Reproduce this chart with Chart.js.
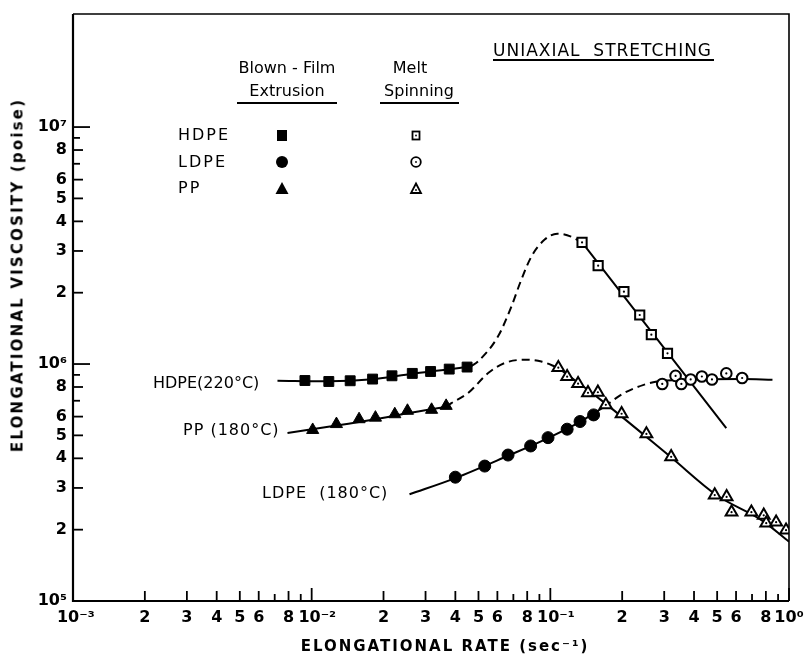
<!DOCTYPE html>
<html>
<head>
<meta charset="utf-8">
<script src="https://cdn.jsdelivr.net/npm/chart.js@4/dist/chart.umd.min.js"></script>
<style>
html,body{margin:0;padding:0;background:#fff;}
#wrap{position:relative;width:804px;height:663px;overflow:hidden;}
#c{position:absolute;left:0;top:0;}
.t{position:absolute;font-family:"DejaVu Sans",sans-serif;color:#000;white-space:pre;line-height:1;}
.c{transform:translate(-50%,-50%);}
.l{transform:translateY(-50%);}
.u{position:absolute;height:2px;background:#000;}
</style>
</head>
<body>
<div id="wrap">
<canvas id="c" width="804" height="663"></canvas>
<div class="t c" style="left:287px;top:68px;font-size:16px;">Blown - Film</div>
<div class="t c" style="left:287px;top:91px;font-size:16px;">Extrusion</div>
<div class="u" style="left:237px;top:102px;width:100px;"></div>
<div class="t c" style="left:410px;top:68px;font-size:16px;">Melt</div>
<div class="t c" style="left:419px;top:91px;font-size:16px;">Spinning</div>
<div class="u" style="left:380px;top:102px;width:79px;"></div>
<div class="t l" style="left:178px;top:135px;font-size:16px;letter-spacing:2px;">HDPE</div>
<div class="t l" style="left:178px;top:162px;font-size:16px;letter-spacing:2px;">LDPE</div>
<div class="t l" style="left:178px;top:188px;font-size:16px;letter-spacing:2px;">PP</div>
<div class="t l" style="left:493px;top:50px;font-size:17px;letter-spacing:1px;">UNIAXIAL  STRETCHING</div>
<div class="u" style="left:493px;top:59px;width:221px;"></div>
<div class="t l" style="left:153px;top:383px;font-size:16px;">HDPE(220°C)</div>
<div class="t l" style="left:183px;top:430px;font-size:16px;letter-spacing:1px;">PP (180°C)</div>
<div class="t l" style="left:262px;top:493px;font-size:16px;letter-spacing:1px;">LDPE  (180°C)</div>
<div class="t c" style="left:445px;top:646px;font-size:15px;font-weight:bold;letter-spacing:2px;">ELONGATIONAL RATE (sec⁻¹)</div>
<div class="t" style="left:18px;top:275px;font-size:15px;font-weight:bold;letter-spacing:2.2px;transform:translate(-50%,-50%) rotate(-90deg);">ELONGATIONAL VISCOSITY (poise)</div>
</div>
<script>
// ---------- tick values and labels ----------
const rateTicks = [0.001,0.002,0.003,0.004,0.005,0.006,0.007,0.008,0.009,
                   0.01,0.02,0.03,0.04,0.05,0.06,0.07,0.08,0.09,
                   0.1,0.2,0.3,0.4,0.5,0.6,0.7,0.8,0.9,1];
const rateTickLabels = [' 10⁻³','2','3','4','5','6','','8','',
                        '  10⁻²','2','3','4','5','6','','8','',
                        '  10⁻¹','2','3','4','5','6','','8','','10⁰'];
const viscTicks = [1e5,2e5,3e5,4e5,5e5,6e5,7e5,8e5,9e5,
                   1e6,2e6,3e6,4e6,5e6,6e6,7e6,8e6,9e6,1e7];
const viscTickLabels = ['10⁵','2','3','4','5','6','','8','',
                        '10⁶','2','3','4','5','6','','8','','10⁷'];

// ---------- Blown-film extrusion (filled symbols) ----------
const hdpeFilmRate = [0.00937,0.0118,0.0145,0.0180,0.0217,0.0264,0.0315,0.0377,0.0448];
const hdpeFilmVisc = [8.52e5,8.44e5,8.50e5,8.64e5,8.92e5,9.13e5,9.30e5,9.52e5,9.71e5];
const ppFilmRate = [0.0101,0.0127,0.0158,0.0185,0.0223,0.0252,0.0318,0.0366];
const ppFilmVisc = [5.27e5,5.58e5,5.85e5,5.94e5,6.14e5,6.35e5,6.41e5,6.66e5];
const ldpeFilmRate = [0.0400,0.0531,0.0665,0.0827,0.0978,0.1176,0.1332,0.1518];
const ldpeFilmVisc = [3.33e5,3.71e5,4.13e5,4.51e5,4.89e5,5.31e5,5.72e5,6.10e5];

// ---------- Melt spinning (open symbols) ----------
const hdpeSpinRate = [0.1358,0.1586,0.2034,0.2369,0.2650,0.3097];
const hdpeSpinVisc = [3.26e6,2.60e6,2.02e6,1.61e6,1.33e6,1.11e6];
const ldpeSpinRate = [0.2944,0.3348,0.3540,0.3873,0.4314,0.4756,0.5462,0.6363];
const ldpeSpinVisc = [8.24e5,8.91e5,8.24e5,8.61e5,8.86e5,8.61e5,9.13e5,8.73e5];
const ppSpinRate = [0.1080,0.1176,0.1307,0.1438,0.1582,0.1708,0.1989,0.2527,0.3208,
                    0.4884,0.5478,0.5745,0.6957,0.7837,0.8027,0.8832,0.9719];
const ppSpinVisc = [9.65e5,8.84e5,8.26e5,7.56e5,7.60e5,6.73e5,6.17e5,5.07e5,4.06e5,
                    2.80e5,2.75e5,2.37e5,2.37e5,2.30e5,2.13e5,2.15e5,1.99e5];

// ---------- drawn curves (solid fits, dashed transitions) ----------
const hdpeFitRate = [0.00719,0.0118,0.018,0.0264,0.0377,0.0467];
const hdpeFitVisc = [8.5e5,8.45e5,8.62e5,9.1e5,9.5e5,9.8e5];
const hdpeDashRate = [0.0467,0.0498,0.0604,0.0687,0.0756,0.0833,0.0947,0.1069,0.1222,0.1358];
const hdpeDashVisc = [9.8e5,1.026e6,1.309e6,1.75e6,2.27e6,2.84e6,3.35e6,3.55e6,3.45e6,3.26e6];
const hdpeSpinFitRate = [0.1358,0.546];
const hdpeSpinFitVisc = [3.26e6,5.36e5];

const ppFitRate = [0.00792,0.0127,0.0185,0.0252,0.0366];
const ppFitVisc = [5.12e5,5.5e5,5.85e5,6.2e5,6.6e5];
const ppDashRate = [0.0366,0.0385,0.0452,0.0549,0.0644,0.0781,0.0917,0.1076];
const ppDashVisc = [6.6e5,6.84e5,7.54e5,9.16e5,1.01e6,1.043e6,1.025e6,9.65e5];
const ppSpinFitRate = [0.1076,0.1627,0.3177,0.4966,0.7747,1.0];
const ppSpinFitVisc = [9.65e5,7.06e5,4.07e5,2.80e5,2.18e5,1.78e5];

const ldpeFitRate = [0.0257,0.0400,0.0665,0.0978,0.1332,0.168];
const ldpeFitVisc = [2.82e5,3.30e5,4.10e5,4.87e5,5.70e5,6.6e5];
const ldpeDashRate = [0.168,0.2034,0.2461,0.2798,0.2944];
const ldpeDashVisc = [6.6e5,7.54e5,8.17e5,8.44e5,8.5e5];
const ldpeSpinFitRate = [0.2944,0.40,0.6363,0.8526];
const ldpeSpinFitVisc = [8.5e5,8.62e5,8.65e5,8.58e5];

const pts = (xs, ys) => xs.map((x, i) => ({x: x, y: ys[i]}));

function curve(xs, ys, dashed) {
  return {type:'scatter', data: pts(xs, ys), showLine:true, pointRadius:0, pointHoverRadius:0,
          borderColor:'#000', borderWidth:2, borderDash: dashed ? [8,5] : [],
          cubicInterpolationMode:'monotone', fill:false, order:3};
}
function marks(xs, ys, style, r, filled) {
  return {type:'scatter', data: pts(xs, ys), pointStyle:style, pointRadius:r, pointHoverRadius:r,
          backgroundColor: filled ? '#000' : '#fff', borderColor:'#000',
          pointBorderWidth: filled ? 1 : 2, showLine:false, order:2};
}
function dots(xs, ys) {
  return {type:'scatter', data: pts(xs, ys), pointStyle:'circle', pointRadius:1.1, pointHoverRadius:1.1,
          backgroundColor:'#000', borderColor:'#000', pointBorderWidth:0, showLine:false, order:1};
}

const frameTicks = {
  id:'frameTicks',
  afterDraw(chart){
    const {ctx, chartArea:a} = chart;
    const xs = chart.scales.x, ys = chart.scales.y;
    ctx.save();
    ctx.strokeStyle = '#000';
    ctx.lineWidth = 1.6;
    ctx.beginPath();
    ctx.moveTo(a.left, a.top); ctx.lineTo(a.right, a.top); ctx.lineTo(a.right, a.bottom);
    ctx.stroke();
    ctx.lineWidth = 2.2;
    ctx.beginPath();
    ctx.moveTo(a.left, a.top); ctx.lineTo(a.left, a.bottom); ctx.lineTo(a.right, a.bottom);
    ctx.stroke();
    ctx.lineWidth = 1.8;
    rateTicks.forEach((v, i) => {
      const lab = rateTickLabels[i].trim();
      const len = lab.startsWith('10') ? 13 : (lab === '' ? 7 : 10);
      const px = xs.getPixelForValue(v);
      ctx.beginPath(); ctx.moveTo(px, a.bottom); ctx.lineTo(px, a.bottom - len); ctx.stroke();
    });
    viscTicks.forEach((v, i) => {
      const lab = viscTickLabels[i];
      const len = lab.startsWith('10') ? 17 : (lab === '' ? 7 : 10);
      const py = ys.getPixelForValue(v);
      ctx.beginPath(); ctx.moveTo(a.left, py); ctx.lineTo(a.left + len, py); ctx.stroke();
    });
    ctx.restore();
  }
};

// legend symbol table (symbols only; text is HTML)
const legendSymbols = {
  id:'legendSymbols',
  afterDraw(chart){
    const ctx = chart.ctx;
    ctx.save();
    ctx.fillStyle = '#000'; ctx.strokeStyle = '#000';
    ctx.fillRect(277, 130, 10, 11);
    ctx.beginPath(); ctx.arc(282, 162, 6, 0, Math.PI*2); ctx.fill();
    ctx.beginPath(); ctx.moveTo(282, 182); ctx.lineTo(288.5, 194); ctx.lineTo(275.5, 194); ctx.closePath(); ctx.fill();
    ctx.lineWidth = 1.8;
    ctx.strokeRect(412.5, 131.5, 7, 8);
    ctx.beginPath(); ctx.arc(416, 162, 4.8, 0, Math.PI*2); ctx.stroke();
    ctx.beginPath(); ctx.moveTo(416, 183.5); ctx.lineTo(421, 193); ctx.lineTo(411, 193); ctx.closePath(); ctx.stroke();
    ctx.beginPath(); ctx.arc(416, 135.5, 0.9, 0, Math.PI*2); ctx.fill();
    ctx.beginPath(); ctx.arc(416, 162, 0.9, 0, Math.PI*2); ctx.fill();
    ctx.beginPath(); ctx.arc(416, 190, 0.9, 0, Math.PI*2); ctx.fill();
    ctx.restore();
  }
};

new Chart(document.getElementById('c'), {
  type:'scatter',
  data:{
    datasets:[
      marks(hdpeFilmRate, hdpeFilmVisc, 'rect', 7, true),
      marks(ppFilmRate, ppFilmVisc, 'triangle', 7, true),
      marks(ldpeFilmRate, ldpeFilmVisc, 'circle', 6, true),
      marks(hdpeSpinRate, hdpeSpinVisc, 'rect', 6.5, false),
      marks(ldpeSpinRate, ldpeSpinVisc, 'circle', 5.3, false),
      marks(ppSpinRate, ppSpinVisc, 'triangle', 6.8, false),
      dots(hdpeSpinRate.concat(ldpeSpinRate, ppSpinRate), hdpeSpinVisc.concat(ldpeSpinVisc, ppSpinVisc)),
      curve(hdpeFitRate, hdpeFitVisc, false),
      curve(hdpeDashRate, hdpeDashVisc, true),
      curve(hdpeSpinFitRate, hdpeSpinFitVisc, false),
      curve(ppFitRate, ppFitVisc, false),
      curve(ppDashRate, ppDashVisc, true),
      curve(ppSpinFitRate, ppSpinFitVisc, false),
      curve(ldpeFitRate, ldpeFitVisc, false),
      curve(ldpeDashRate, ldpeDashVisc, true),
      curve(ldpeSpinFitRate, ldpeSpinFitVisc, false)
    ]
  },
  options:{
    responsive:false,
    animation:false,
    devicePixelRatio:1,
    layout:{padding:{top:14, right:15, left:0, bottom:0}},
    plugins:{legend:{display:false}, tooltip:{enabled:false}},
    events:[],
    scales:{
      x:{
        type:'logarithmic', min:0.001, max:1,
        grid:{display:false, drawTicks:false},
        border:{display:false},
        afterBuildTicks: s => { s.ticks = rateTicks.map(v => ({value:v})); },
        afterFit: s => { s.height = 62; s.paddingLeft = 0; s.paddingRight = 0; },
        ticks:{autoSkip:false, maxRotation:0, minRotation:0, padding:7, color:'#000',
               font:{family:'DejaVu Sans', size:16, weight:'bold'},
               callback:(v, i) => rateTickLabels[i]}
      },
      y:{
        type:'logarithmic', min:1e5, max:3.0e7,
        grid:{display:false, drawTicks:false},
        border:{display:false},
        afterBuildTicks: s => { s.ticks = viscTicks.map(v => ({value:v})); },
        afterFit: s => { s.width = 73; s.paddingTop = 0; s.paddingBottom = 0; },
        ticks:{autoSkip:false, padding:6, color:'#000',
               font:{family:'DejaVu Sans', size:16, weight:'bold'},
               callback:(v, i) => viscTickLabels[i]}
      }
    }
  },
  plugins:[frameTicks, legendSymbols]
});
</script>
</body>
</html>
